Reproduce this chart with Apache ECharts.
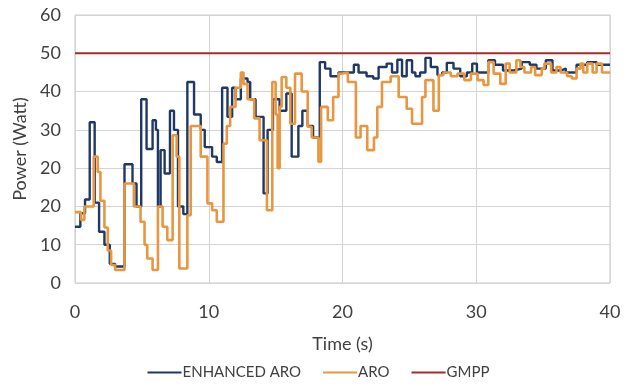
<!DOCTYPE html>
<html>
<head>
<meta charset="utf-8">
<script src="https://cdn.jsdelivr.net/npm/echarts@6/dist/echarts.min.js"></script>
<style>
  html, body { margin: 0; padding: 0; background: #fff; }
  #chart { width: 637px; height: 386px; }
</style>
</head>
<body>
<div id="chart"></div>
<script>
// The source chart's y axis repeats "20", so values are kept in gridline units
// (one gridline = 10) and the labels below are what each gridline reads.
const Y_TICK_LABELS = ["0", "10", "20", "20", "30", "40", "50", "60"];
const X_TICKS = [0, 10, 20, 30, 40];

// [time (s), power] — each value holds until the next time
const ENHANCED_ARO = [
  [0, 14.7], [0.4, 18.2], [0.75, 21.8], [1.1, 42], [1.47, 21], [1.8, 13.4],
  [2.2, 10], [2.6, 5], [3.0, 4.3], [3.7, 31], [4.3, 26], [4.6, 20],
  [4.95, 48], [5.35, 35], [5.8, 42.5], [6.05, 40], [6.2, 20], [6.4, 34.7],
  [6.7, 28.6], [7.1, 45], [7.4, 40], [7.7, 20], [8.1, 18], [8.4, 52.5],
  [8.9, 44], [9.4, 40], [9.7, 35.5], [10.25, 33], [10.6, 31.6], [11.0, 51],
  [11.4, 43.4], [11.75, 51], [12.0, 48], [12.4, 53.4], [12.9, 52.5], [13.1, 48],
  [13.5, 43.4], [14.1, 23.4], [14.4, 40], [14.8, 48], [15.3, 45], [15.8, 49.5],
  [16.2, 33], [16.7, 41], [17.0, 45], [17.4, 41], [17.8, 38], [18.3, 57.7],
  [18.7, 56], [19.1, 54], [19.7, 55], [20.85, 57], [21.2, 55], [21.8, 54],
  [22.3, 53.4], [22.7, 56.4], [23.3, 57.3], [23.7, 55], [24.1, 58.3], [24.45, 54],
  [24.8, 58.2], [25.2, 55], [25.45, 54], [25.8, 55], [26.2, 58.8], [26.6, 56.4],
  [27.1, 54.3], [27.45, 55], [27.8, 57.5], [28.3, 56], [28.8, 54], [29.3, 55],
  [29.7, 57.3], [30.05, 55], [30.9, 58.2], [31.4, 57], [32.0, 55.5], [32.8, 56],
  [33.4, 57.7], [34.0, 57], [34.5, 56], [35.2, 58.2], [35.7, 55.5], [36.3, 56],
  [36.7, 55], [37.5, 57], [38.3, 57.7], [39.0, 57], [40, 57]
];

const ARO = [
  [0, 18.5], [0.45, 16.5], [0.7, 20], [1.4, 33], [1.7, 29], [1.9, 21.5],
  [2.2, 14.5], [2.45, 8.5], [2.7, 4.7], [3.0, 3.4], [3.7, 26], [4.4, 20],
  [4.9, 16], [5.2, 10], [5.4, 6.4], [5.8, 3.4], [6.2, 20], [6.55, 14.7],
  [6.9, 11.2], [7.3, 38.6], [7.6, 33], [7.8, 3.8], [8.4, 17.7], [8.65, 41],
  [9.4, 33], [9.9, 20.8], [10.25, 19], [10.6, 16], [11.1, 36.4], [11.35, 41],
  [11.6, 46], [12.0, 51], [12.4, 55], [12.6, 52], [12.9, 48], [13.4, 43],
  [13.8, 37.3], [14.35, 19], [14.75, 52.5], [15.0, 44], [15.15, 30], [15.3, 46],
  [15.45, 53.8], [15.8, 51], [16.1, 41.6], [16.45, 54.7], [16.95, 50], [17.4, 40.8],
  [17.7, 38], [18.2, 31.7], [18.4, 46], [18.9, 42.5], [19.3, 48.6], [19.7, 54.7],
  [20.0, 55], [20.4, 52.5], [21.0, 38], [21.35, 41], [21.85, 34.7], [22.35, 38],
  [22.6, 46], [22.95, 52.5], [23.6, 54], [24.2, 48.6], [24.8, 45.5], [25.2, 41.6],
  [25.95, 48.6], [26.2, 53], [26.8, 45], [27.2, 54.3], [27.55, 55], [28.1, 54],
  [28.6, 54.7], [29.1, 53], [29.6, 54.7], [30.1, 53], [30.55, 51.7], [30.9, 57.7],
  [31.3, 54.7], [31.8, 52], [32.2, 57.3], [32.5, 55], [33.0, 58.2], [33.3, 56.4],
  [33.6, 55], [34.1, 56.4], [34.4, 54.3], [34.9, 56], [35.1, 57.3], [35.6, 55],
  [36.0, 56.4], [36.3, 55], [36.8, 54], [37.15, 53.4], [37.5, 56], [37.8, 57.3],
  [38.0, 55], [38.3, 57.3], [38.7, 55], [39.0, 57.3], [39.4, 55], [40, 55]
];

const GMPP = [[0, 60], [40, 60]];

const FONT = "Lato, 'Open Sans', sans-serif";
const TEXT = "#404040";

const chart = echarts.init(document.getElementById("chart"));

chart.setOption({
  animation: false,
  textStyle: { fontFamily: FONT },
  grid: {
    left: 75,
    right: 27,
    top: 15,
    bottom: 103,
    show: true,
    borderColor: "#c8c8c8",
    borderWidth: 1,
  },
  legend: {
    bottom: 1,
    left: "center",
    icon: "rect",
    itemWidth: 34,
    itemHeight: 2,
    itemGap: 22,
    textStyle: { fontFamily: FONT, fontSize: 15, color: TEXT, padding: [0, 0, 0, -4] },
    data: ["ENHANCED ARO", "ARO", "GMPP"],
  },
  xAxis: {
    type: "value",
    min: X_TICKS[0],
    max: X_TICKS[X_TICKS.length - 1],
    interval: 10,
    name: "Time (s)",
    nameLocation: "middle",
    nameGap: 52,
    nameTextStyle: { fontSize: 18, color: TEXT, fontFamily: FONT },
    axisLine: { show: false },
    axisTick: { show: false },
    axisLabel: { fontSize: 18, color: TEXT, margin: 20 },
    splitLine: { lineStyle: { color: "#d4d4d4" } },
  },
  yAxis: {
    type: "value",
    min: 0,
    max: (Y_TICK_LABELS.length - 1) * 10,
    interval: 10,
    name: "Power (Watt)",
    nameLocation: "middle",
    nameGap: 40,
    nameTextStyle: { fontSize: 18, color: TEXT, fontFamily: FONT },
    axisLine: { show: false },
    axisTick: { show: false },
    axisLabel: {
      fontSize: 18,
      color: TEXT,
      margin: 14,
      formatter: (v) => Y_TICK_LABELS[Math.round(v / 10)],
    },
    splitLine: { lineStyle: { color: "#d4d4d4" } },
  },
  series: [
    {
      name: "ENHANCED ARO",
      type: "line",
      step: "end",
      data: ENHANCED_ARO,
      showSymbol: false,
      itemStyle: { color: "#1f3864" },
      lineStyle: { color: "#1f3864", width: 2.4 },
    },
    {
      name: "ARO",
      type: "line",
      step: "end",
      data: ARO,
      showSymbol: false,
      itemStyle: { color: "#e8963f" },
      lineStyle: { color: "#e8963f", width: 2.6 },
    },
    {
      name: "GMPP",
      type: "line",
      data: GMPP,
      showSymbol: false,
      itemStyle: { color: "#a82a2a" },
      lineStyle: { color: "#a82a2a", width: 2 },
    },
  ],
});
</script>
</body>
</html>
